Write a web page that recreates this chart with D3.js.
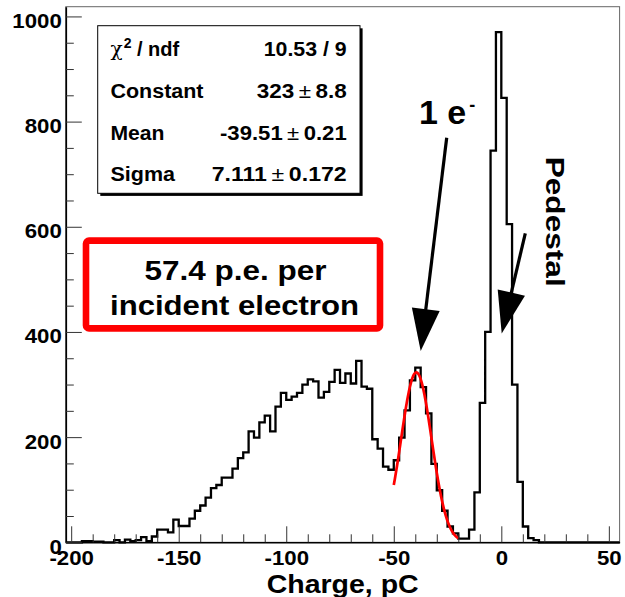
<!DOCTYPE html>
<html><head><meta charset="utf-8">
<script src="https://cdn.jsdelivr.net/npm/d3@7"></script>
<style>
body{margin:0;background:#fff;}
svg{display:block;}
text{font-family:"Liberation Sans",Arial,Helvetica,sans-serif;font-weight:bold;fill:#000;}
</style></head><body>
<svg id="c" width="625" height="597"></svg>
<script>
// ---- data ----
const binStart = -202.5;
const binWidth = 2.5;
const counts = [
  0,0,0,2,2,1,1,0,0,4,
  0,5,2,4,10,2,11,24,24,19,
  43,31,31,45,60,70,85,103,109,123,
  123,140,160,171,211,199,228,241,211,258,
  284,271,277,284,300,310,306,275,286,305,
  328,303,321,302,345,296,292,196,178,144,
  138,156,199,251,308,332,295,245,149,99,
  60,30,17,7,7,24,95,265,400,745,
  970,845,605,300,115,30,8,4,0,0,
  0,0,0,0,0,0,0,0,0,0,
  0,0,0
];
const xDomain = [-202.5, 55];
const yDomain = [0, 1018.5];
const xTickMajor = [-200,-150,-100,-50,0,50];
const xTickMinor = [-190,-180,-170,-160,-140,-130,-120,-110,-90,-80,-70,-60,-40,-30,-20,-10,10,20,30,40];
const yTickMajor = [0,200,400,600,800,1000];
const yTickMinor = [50,100,150,250,300,350,450,500,550,650,700,750,850,900,950];
const fitConstant = 323, fitMean = -39.51, fitSigma = 7.111;
const fitRange = [-50, -20];
const statsLabels = ["/ ndf","Constant","Mean","Sigma"];
const statsValues = [["10.53 / 9"],["323","8.8"],["-39.51","0.21"],["7.111","0.172"]];
const noteLines = ["57.4 p.e. per","incident electron"];

// ---- layout ----
const svg = d3.select("#c");
const x = d3.scaleLinear().domain(xDomain).range([65.8, 619.6]);
const y = d3.scaleLinear().domain(yDomain).range([542.3, 6.7]);

function fit(sel, len){
  sel.attr("textLength", len).attr("lengthAdjust","spacingAndGlyphs");
}
function stretch(sel, f){
  sel.each(function(){
    const l = this.getComputedTextLength();
    this.setAttribute("textLength", l*f);
    this.setAttribute("lengthAdjust","spacingAndGlyphs");
  });
}

// frame
svg.append("rect").attr("x",65.8).attr("y",6.7).attr("width",553.8).attr("height",535.6)
  .attr("fill","none").attr("stroke","#666").attr("stroke-width",1);

// histogram
const pts = [];
pts.push([x(binStart), y(0)]);
counts.forEach((c,i)=>{
  const lo = binStart + i*binWidth, hi = lo + binWidth;
  pts.push([x(lo), y(c)]);
  pts.push([x(hi), y(c)]);
});
pts.push([x(binStart + counts.length*binWidth), y(0)]);
svg.append("path").attr("d", d3.line()(pts))
  .attr("fill","none").attr("stroke","#000").attr("stroke-width",2.3).attr("stroke-linejoin","miter");

// fit
const fx = d3.range(fitRange[0], fitRange[1]+0.001, 0.25);
const gauss = v => fitConstant*Math.exp(-0.5*Math.pow((v-fitMean)/fitSigma,2));
svg.append("path").attr("d", d3.line().x(v=>x(v)).y(v=>y(gauss(v)))(fx))
  .attr("fill","none").attr("stroke","#ff0000").attr("stroke-width",2.7);

// axes
const gx = svg.append("g").attr("transform",`translate(0,${y(0)})`);
gx.call(d3.axisBottom(x).tickValues(xTickMajor).tickSizeInner(-16).tickSizeOuter(0).tickPadding(9).tickFormat(d=>String(d)));
const gxm = svg.append("g").attr("transform",`translate(0,${y(0)})`);
gxm.call(d3.axisBottom(x).tickValues(xTickMinor).tickSizeInner(-8).tickSizeOuter(0).tickFormat(""));
gxm.select(".domain").remove();
const gy = svg.append("g").attr("transform",`translate(${x(xDomain[0])},0)`);
gy.call(d3.axisLeft(y).tickValues(yTickMajor).tickSizeInner(-16).tickSizeOuter(0).tickPadding(4).tickFormat(d=>String(d)));
const gym = svg.append("g").attr("transform",`translate(${x(xDomain[0])},0)`);
gym.call(d3.axisLeft(y).tickValues(yTickMinor).tickSizeInner(-8).tickSizeOuter(0).tickFormat(""));
gym.select(".domain").remove();
svg.selectAll(".domain").attr("stroke","#000").attr("stroke-width",1.6);
svg.selectAll(".tick line").attr("stroke","#333").attr("stroke-width",1);
svg.selectAll(".tick text").attr("font-family",null).attr("font-size",19.5).attr("fill","#000");
gy.selectAll(".tick text").attr("dy","0.56em");
stretch(svg.selectAll(".tick text"), 1.14);

// axis title
const xt = svg.append("text").attr("x",(x(xDomain[0])+x(xDomain[1]))/2 ).attr("y",593)
  .attr("text-anchor","middle").attr("font-size",26).text("Charge, pC");
fit(xt,152);

// stats box
svg.append("rect").attr("x",100.3).attr("y",28.3).attr("width",262.3).attr("height",167.6).attr("fill","#000");
svg.append("rect").attr("x",97.7).attr("y",25.7).attr("width",262.3).attr("height",167.6)
  .attr("fill","#fff").attr("stroke","#000").attr("stroke-width",1);
const rowY = [56, 98, 139.5, 181];
const labelLen = [null, 93, 54, 64.5];
const valueLen = [83, 90, 126.7, 135];
statsLabels.forEach((lab,i)=>{
  const t = svg.append("text").attr("x",110.5).attr("y",rowY[i]).attr("font-size",20);
  if(i===0){
    t.append("tspan").attr("font-family","'DejaVu Serif','Liberation Serif',serif").attr("font-weight","normal").attr("font-size",20).text("χ");
    t.append("tspan").attr("font-size",14).attr("dy",-8).attr("dx",1).text("2");
    t.append("tspan").attr("dy",8).text(" " + lab);
  } else {
    t.text(lab);
    fit(t,labelLen[i]);
  }
  const v = svg.append("text").attr("x",346.7).attr("y",rowY[i]).attr("font-size",20).attr("text-anchor","end");
  const parts = statsValues[i];
  if(parts.length===1){ v.text(parts[0]); }
  else {
    v.append("tspan").text(parts[0]);
    v.append("tspan").attr("font-weight","normal").attr("dx",4).text("±");
    v.append("tspan").attr("dx",4).text(parts[1]);
  }
  fit(v,valueLen[i]);
});

// red note box
svg.append("rect").attr("x",86).attr("y",240.6).attr("width",294).attr("height",87.8)
  .attr("rx",3).attr("fill","#fff").attr("stroke","#ff0000").attr("stroke-width",6.6);
const n1 = svg.append("text").attr("x",235.5).attr("y",279.5).attr("text-anchor","middle").attr("font-size",28).text(noteLines[0]);
fit(n1,182);
const n2 = svg.append("text").attr("x",234.5).attr("y",315).attr("text-anchor","middle").attr("font-size",28).text(noteLines[1]);
fit(n2,249);

// arrows
function arrow(sx,sy,tx,ty){
  const dx=tx-sx, dy=ty-sy, L=Math.hypot(dx,dy), ux=dx/L, uy=dy/L;
  const hl=42, hw=14;
  const bx=tx-ux*hl, by=ty-uy*hl;
  svg.append("line").attr("x1",sx).attr("y1",sy).attr("x2",bx+ux*4).attr("y2",by+uy*4)
    .attr("stroke","#000").attr("stroke-width",3.2);
  svg.append("path").attr("d",`M${tx},${ty}L${bx-uy*hw},${by+ux*hw}L${bx+uy*hw},${by-ux*hw}Z`).attr("fill","#000");
}
arrow(446.7,137.7,420.7,351);
arrow(525.3,233.3,501.7,333.5);

// labels
const e1 = svg.append("text").attr("x",419).attr("y",124).attr("font-size",34);
e1.append("tspan").text("1 e");
e1.append("tspan").attr("font-size",18).attr("dy",-12.6).attr("dx",3).text("-");
svg.append("text").attr("transform","translate(546,156.7) rotate(90)").attr("font-size",26)
  .attr("textLength",130).attr("lengthAdjust","spacingAndGlyphs").text("Pedestal");
</script>
</body></html>
